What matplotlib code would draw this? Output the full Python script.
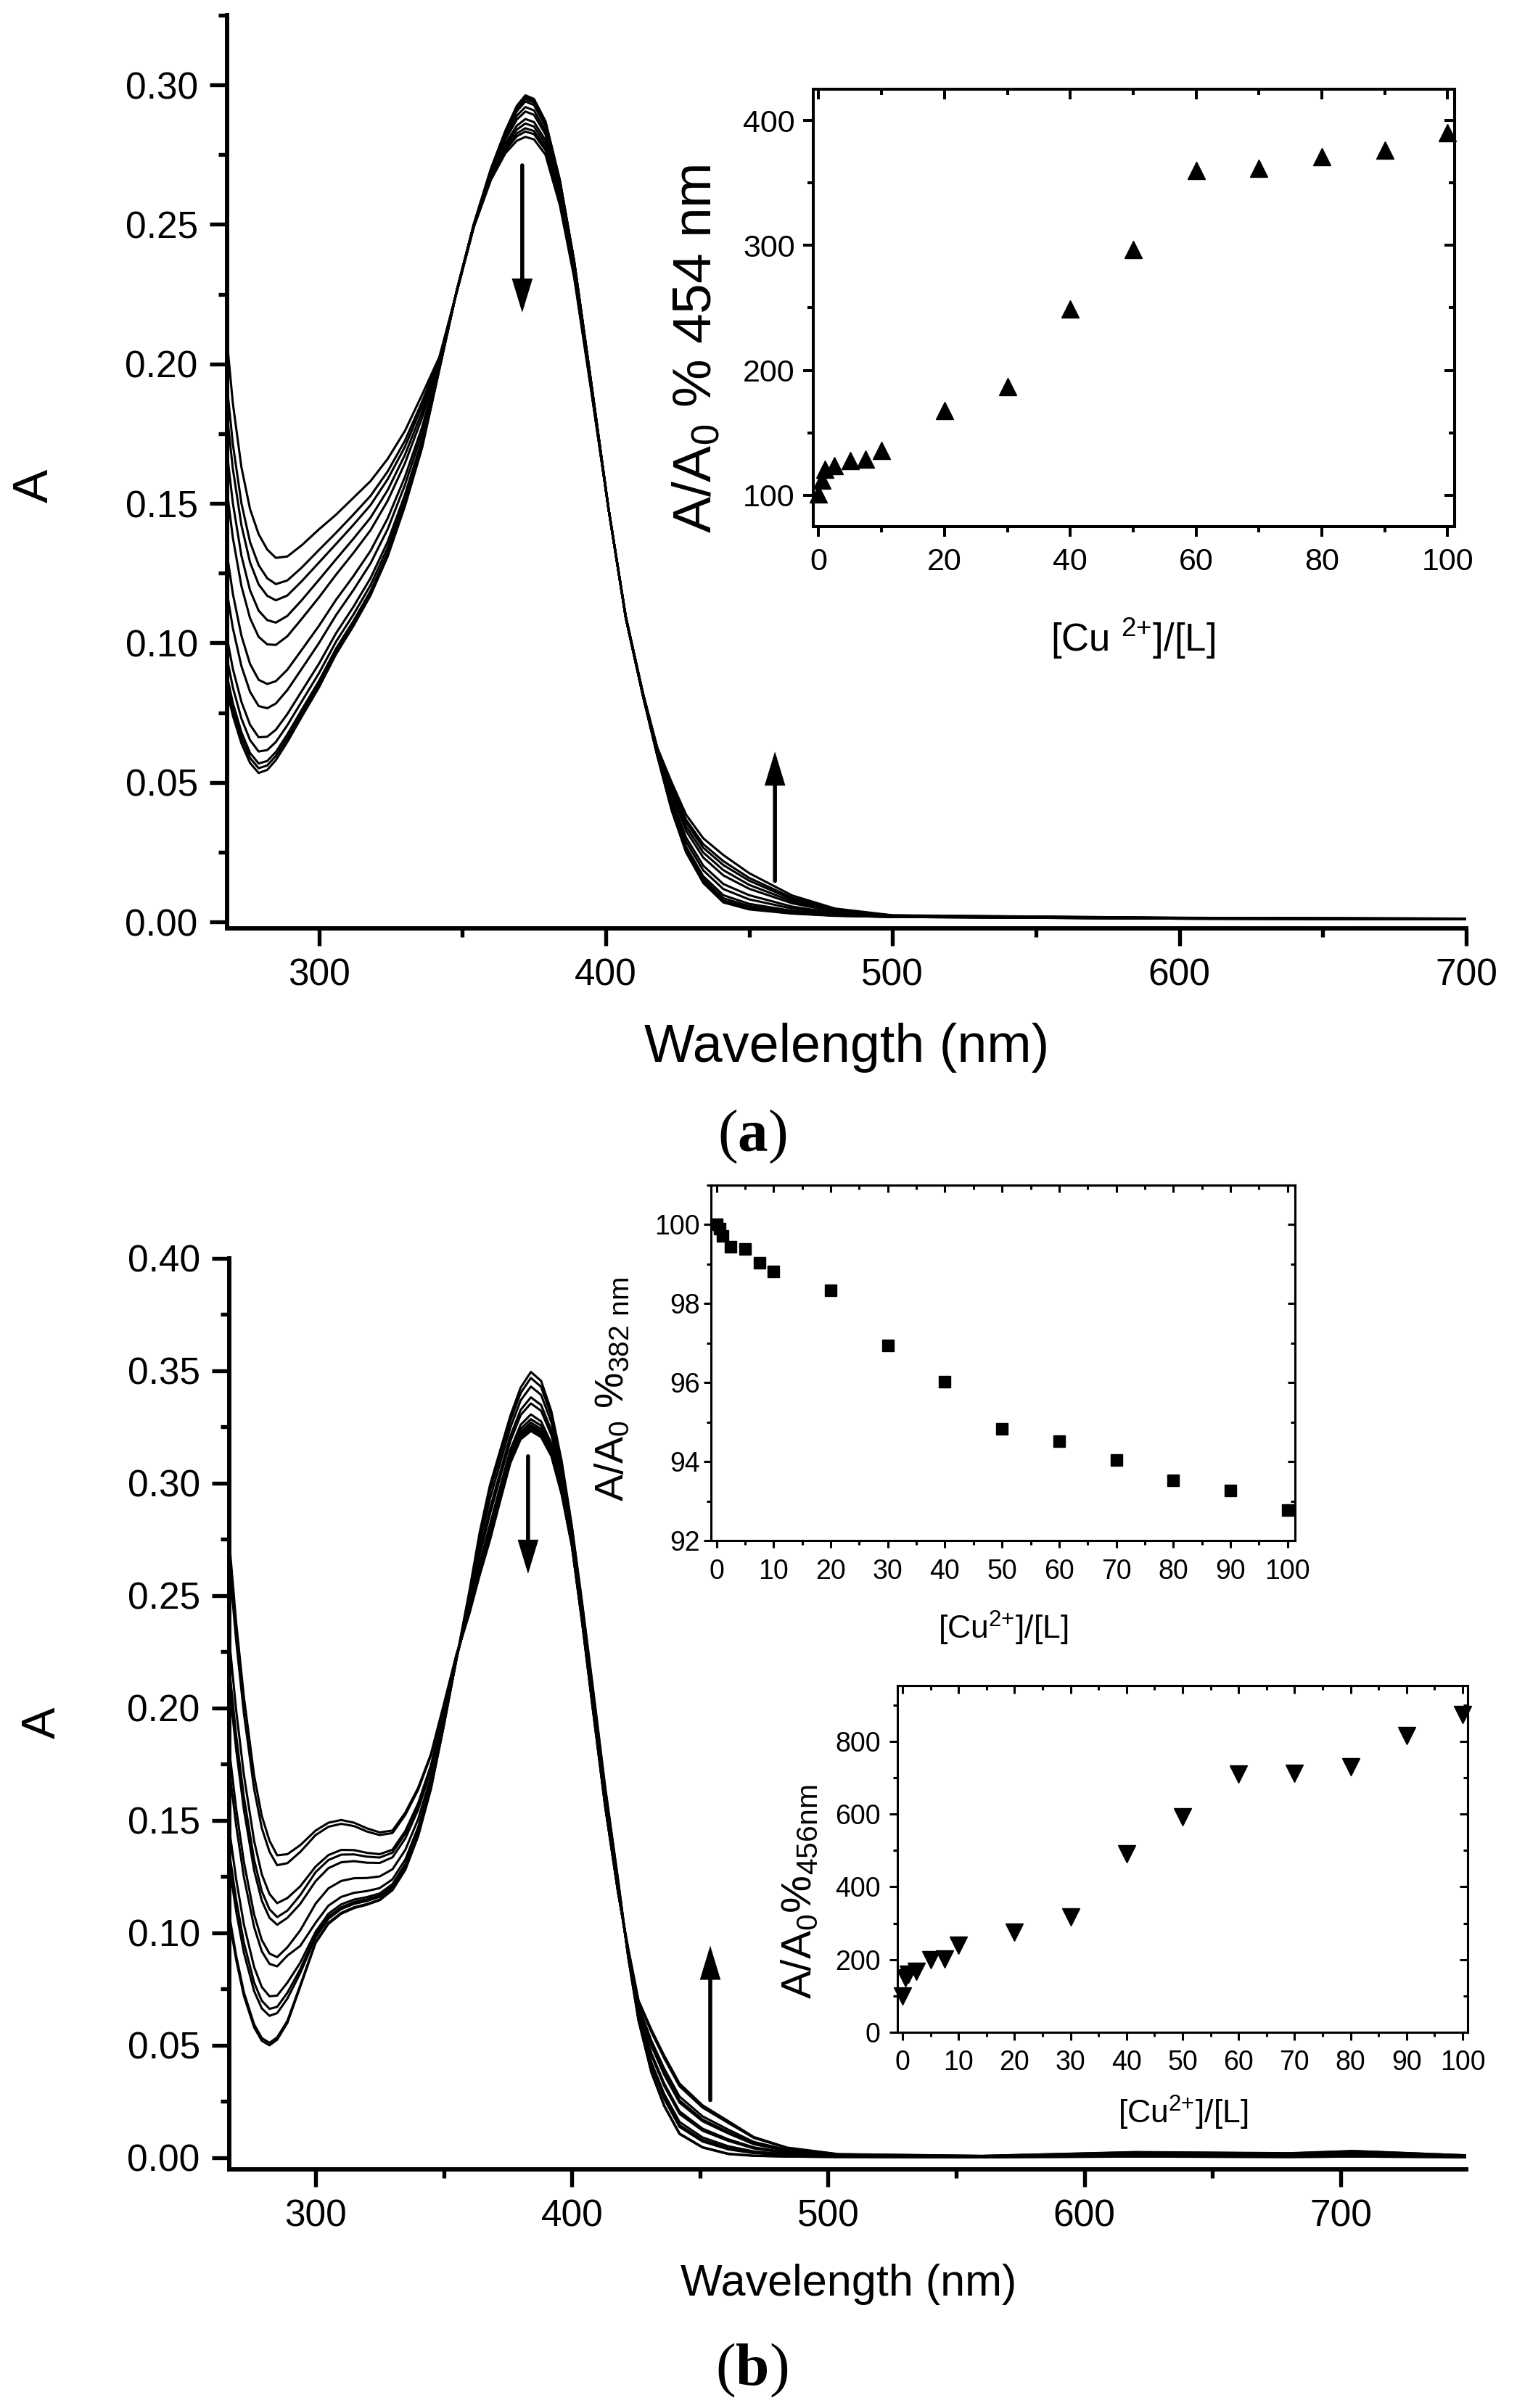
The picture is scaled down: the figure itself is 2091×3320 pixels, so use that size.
import matplotlib
matplotlib.use('Agg')
import matplotlib.pyplot as plt
from matplotlib.ticker import MultipleLocator, FormatStrFormatter, NullFormatter

plt.rcParams['font.family'] = ['Liberation Sans', 'DejaVu Sans']
plt.rcParams['mathtext.fontset'] = 'custom'
plt.rcParams['mathtext.default'] = 'regular'
plt.rcParams['mathtext.bf'] = 'Liberation Serif:bold'

W, H = 2091, 3320

# ---------------- panel (a): spectra ----------------
wl_a = [268, 270, 273, 276, 279, 282, 285, 289, 294, 300, 306, 312, 318, 324, 330, 336, 342, 348, 354, 360,
        365, 369, 372, 375, 379, 384, 389, 395, 401, 407, 413, 418, 423, 428, 434, 441, 450, 465, 480, 500,
        600, 700]
spectra_a = [
    [0.083, 0.074, 0.064, 0.057, 0.0534, 0.0545, 0.058, 0.0645, 0.0735, 0.084, 0.096, 0.106, 0.117, 0.131, 0.149, 0.170, 0.198, 0.226, 0.250, 0.270,
     0.2835, 0.2925, 0.2963, 0.2950, 0.2870, 0.2660, 0.2370, 0.1930, 0.1480, 0.1090, 0.0810, 0.0595, 0.0400, 0.0250, 0.0140, 0.0070, 0.0045, 0.0030, 0.0022, 0.0018,
     0.0012, 0.0010],
    [0.0855, 0.0762, 0.0660, 0.0588, 0.0551, 0.0561, 0.0595, 0.0658, 0.0747, 0.0851, 0.0970, 0.1069, 0.1178, 0.1317, 0.1495, 0.1704, 0.1981, 0.2260, 0.2500, 0.2699,
     0.2833, 0.2922, 0.2960, 0.2947, 0.2868, 0.2658, 0.2369, 0.1929, 0.1480, 0.1090, 0.0810, 0.0596, 0.0402, 0.0253, 0.0143, 0.0073, 0.0048, 0.0031, 0.0023, 0.0018,
     0.0012, 0.0010],
    [0.0880, 0.0785, 0.0680, 0.0606, 0.0568, 0.0577, 0.0609, 0.0672, 0.0760, 0.0863, 0.0980, 0.1078, 0.1186, 0.1324, 0.1501, 0.1708, 0.1982, 0.2260, 0.2500, 0.2698,
     0.2832, 0.2920, 0.2957, 0.2944, 0.2865, 0.2656, 0.2368, 0.1929, 0.1480, 0.1090, 0.0810, 0.0596, 0.0404, 0.0255, 0.0146, 0.0077, 0.0050, 0.0033, 0.0023, 0.0018,
     0.0012, 0.0010],
    [0.0943, 0.0841, 0.0729, 0.0652, 0.0611, 0.0616, 0.0645, 0.0705, 0.0790, 0.0891, 0.1005, 0.1101, 0.1207, 0.1342, 0.1514, 0.1717, 0.1984, 0.2260, 0.2499, 0.2696,
     0.2828, 0.2914, 0.2950, 0.2937, 0.2859, 0.2652, 0.2365, 0.1927, 0.1480, 0.1090, 0.0811, 0.0598, 0.0409, 0.0262, 0.0154, 0.0085, 0.0057, 0.0036, 0.0024, 0.0019,
     0.0012, 0.0010],
    [0.1018, 0.0908, 0.0789, 0.0707, 0.0662, 0.0664, 0.0689, 0.0745, 0.0827, 0.0925, 0.1035, 0.1129, 0.1232, 0.1363, 0.1531, 0.1729, 0.1987, 0.2260, 0.2498, 0.2694,
     0.2823, 0.2906, 0.2941, 0.2928, 0.2852, 0.2647, 0.2361, 0.1926, 0.1480, 0.1091, 0.0812, 0.0600, 0.0415, 0.0270, 0.0164, 0.0096, 0.0065, 0.0040, 0.0026, 0.0019,
     0.0012, 0.0010],
    [0.1180, 0.1054, 0.0917, 0.0825, 0.0774, 0.0766, 0.0783, 0.0831, 0.0907, 0.0999, 0.1100, 0.1189, 0.1285, 0.1408, 0.1566, 0.1753, 0.1993, 0.2259, 0.2497, 0.2689,
     0.2813, 0.2890, 0.2921, 0.2909, 0.2836, 0.2635, 0.2353, 0.1922, 0.1480, 0.1091, 0.0813, 0.0603, 0.0428, 0.0288, 0.0185, 0.0118, 0.0081, 0.0048, 0.0029, 0.0020,
     0.0013, 0.0011],
    [0.1318, 0.1177, 0.1026, 0.0925, 0.0868, 0.0853, 0.0863, 0.0904, 0.0975, 0.1061, 0.1155, 0.1239, 0.1330, 0.1447, 0.1595, 0.1774, 0.1998, 0.2258, 0.2496, 0.2684,
     0.2804, 0.2876, 0.2905, 0.2893, 0.2823, 0.2625, 0.2347, 0.1918, 0.1480, 0.1092, 0.0814, 0.0607, 0.0439, 0.0303, 0.0202, 0.0136, 0.0096, 0.0055, 0.0032, 0.0020,
     0.0013, 0.0011],
    [0.1543, 0.1378, 0.1204, 0.1089, 0.1022, 0.0995, 0.0993, 0.1024, 0.1086, 0.1163, 0.1245, 0.1322, 0.1404, 0.1510, 0.1644, 0.1808, 0.2006, 0.2257, 0.2494, 0.2677,
     0.2789, 0.2854, 0.2878, 0.2867, 0.2802, 0.2609, 0.2336, 0.1913, 0.1480, 0.1093, 0.0816, 0.0612, 0.0457, 0.0327, 0.0231, 0.0167, 0.0119, 0.0067, 0.0037, 0.0021,
     0.0014, 0.0011],
    [0.1680, 0.1502, 0.1313, 0.1189, 0.1116, 0.1082, 0.1073, 0.1097, 0.1153, 0.1226, 0.1300, 0.1373, 0.1449, 0.1548, 0.1674, 0.1829, 0.2011, 0.2257, 0.2493, 0.2673,
     0.2781, 0.2840, 0.2862, 0.2851, 0.2788, 0.2599, 0.2329, 0.1910, 0.1480, 0.1093, 0.0817, 0.0615, 0.0468, 0.0342, 0.0249, 0.0186, 0.0133, 0.0074, 0.0040, 0.0022,
     0.0014, 0.0011],
    [0.1818, 0.1625, 0.1422, 0.1289, 0.1210, 0.1169, 0.1153, 0.1170, 0.1221, 0.1288, 0.1355, 0.1423, 0.1494, 0.1587, 0.1703, 0.1850, 0.2016, 0.2256, 0.2492, 0.2668,
     0.2772, 0.2826, 0.2845, 0.2835, 0.2775, 0.2589, 0.2323, 0.1906, 0.1480, 0.1094, 0.0818, 0.0619, 0.0479, 0.0357, 0.0266, 0.0204, 0.0148, 0.0081, 0.0043, 0.0023,
     0.0014, 0.0012],
    [0.1918, 0.1714, 0.1501, 0.1362, 0.1279, 0.1232, 0.1211, 0.1224, 0.1270, 0.1333, 0.1395, 0.1460, 0.1527, 0.1615, 0.1725, 0.1865, 0.2019, 0.2256, 0.2491, 0.2665,
     0.2765, 0.2816, 0.2833, 0.2824, 0.2766, 0.2582, 0.2318, 0.1904, 0.1480, 0.1094, 0.0819, 0.0621, 0.0487, 0.0367, 0.0279, 0.0218, 0.0158, 0.0087, 0.0045, 0.0023,
     0.0015, 0.0012],
    [0.208, 0.186, 0.163, 0.148, 0.139, 0.1335, 0.1305, 0.131, 0.135, 0.1407, 0.146, 0.152, 0.158, 0.166, 0.176, 0.189, 0.2025, 0.2255, 0.249, 0.266,
     0.2755, 0.2800, 0.2814, 0.2805, 0.2750, 0.2570, 0.2310, 0.1900, 0.1480, 0.1095, 0.0820, 0.0625, 0.0500, 0.0385, 0.0300, 0.0240, 0.0175, 0.0095, 0.0048, 0.0024,
     0.0015, 0.0012],
]

# inset (a): A/A0 % at 454 nm
ratio_a = [0, 0.5, 1, 2.5, 5, 7.5, 10, 20, 30, 40, 50, 60, 70, 80, 90, 100]
pct_454 = [101, 112, 121, 124, 128, 129, 136, 168, 187, 249, 297, 360, 362, 371, 376, 390]

# ---------------- panel (b): spectra ----------------
wl_b = [266, 269, 272, 276, 279, 282, 285, 289, 294, 300, 305, 310, 315, 320, 325, 330, 335, 340, 345, 350,
        355, 360, 364, 368, 372, 376, 380, 384, 388, 392, 396, 400, 404, 408, 413, 418, 422, 426, 431, 436,
        442, 451, 461, 471, 484, 504, 560, 620, 680, 705, 750]
spectra_b = [
    [0.108, 0.088, 0.072, 0.058, 0.052, 0.0500, 0.0525, 0.0600, 0.0760, 0.0955, 0.1040, 0.1085, 0.1110, 0.1125, 0.1145, 0.1190, 0.1280, 0.1430, 0.1640, 0.1920,
     0.2220, 0.2520, 0.2780, 0.2990, 0.3145, 0.3300, 0.3425, 0.3495, 0.3455, 0.3320, 0.3100, 0.2810, 0.2470, 0.2110, 0.1650, 0.1240, 0.0890, 0.0610, 0.0380, 0.0230,
     0.0105, 0.0045, 0.0016, 0.0008, 0.0005, 0.0003, 0.0002, 0.0005, 0.0003, 0.0005, 0.0002],
    [0.1100, 0.0898, 0.0736, 0.0593, 0.0532, 0.0511, 0.0535, 0.0609, 0.0767, 0.0960, 0.1045, 0.1089, 0.1114, 0.1128, 0.1148, 0.1193, 0.1283, 0.1432, 0.1642, 0.1921,
     0.2220, 0.2510, 0.2760, 0.2965, 0.3122, 0.3278, 0.3401, 0.3468, 0.3429, 0.3299, 0.3085, 0.2801, 0.2461, 0.2100, 0.1641, 0.1234, 0.0890, 0.0611, 0.0382, 0.0233,
     0.0108, 0.0047, 0.0018, 0.0009, 0.0005, 0.0003, 0.0002, 0.0005, 0.0003, 0.0005, 0.0002],
    [0.1325, 0.1096, 0.0912, 0.0741, 0.0664, 0.0631, 0.0643, 0.0708, 0.0821, 0.0980, 0.1063, 0.1106, 0.1129, 0.1142, 0.1160, 0.1203, 0.1293, 0.1441, 0.1648, 0.1925,
     0.2221, 0.2495, 0.2733, 0.2929, 0.3089, 0.3248, 0.3368, 0.3430, 0.3393, 0.3271, 0.3063, 0.2788, 0.2448, 0.2085, 0.1628, 0.1225, 0.0896, 0.0623, 0.0407, 0.0262,
     0.0137, 0.0072, 0.0037, 0.0020, 0.0011, 0.0005, 0.0003, 0.0008, 0.0005, 0.0009, 0.0003],
    [0.1383, 0.1147, 0.0957, 0.0779, 0.0698, 0.0662, 0.0671, 0.0734, 0.0838, 0.0990, 0.1072, 0.1114, 0.1137, 0.1149, 0.1166, 0.1209, 0.1298, 0.1445, 0.1651, 0.1927,
     0.2221, 0.2477, 0.2698, 0.2885, 0.3048, 0.3210, 0.3326, 0.3382, 0.3348, 0.3234, 0.3036, 0.2771, 0.2431, 0.2067, 0.1611, 0.1214, 0.0897, 0.0626, 0.0414, 0.0270,
     0.0145, 0.0079, 0.0042, 0.0023, 0.0012, 0.0005, 0.0003, 0.0009, 0.0006, 0.0010, 0.0003],
    [0.1486, 0.1239, 0.1038, 0.0848, 0.0759, 0.0718, 0.0721, 0.0779, 0.0867, 0.1005, 0.1085, 0.1127, 0.1148, 0.1159, 0.1175, 0.1217, 0.1306, 0.1452, 0.1656, 0.1930,
     0.2222, 0.2467, 0.2679, 0.2860, 0.3025, 0.3188, 0.3303, 0.3355, 0.3322, 0.3214, 0.3020, 0.2762, 0.2422, 0.2057, 0.1602, 0.1208, 0.0900, 0.0632, 0.0425, 0.0284,
     0.0159, 0.0090, 0.0051, 0.0028, 0.0015, 0.0006, 0.0003, 0.0010, 0.0007, 0.0011, 0.0004],
    [0.1757, 0.1477, 0.1249, 0.1026, 0.0918, 0.0862, 0.0851, 0.0899, 0.0942, 0.1045, 0.1121, 0.1160, 0.1178, 0.1186, 0.1199, 0.1238, 0.1326, 0.1469, 0.1668, 0.1937,
     0.2224, 0.2448, 0.2643, 0.2814, 0.2983, 0.3149, 0.3260, 0.3306, 0.3275, 0.3176, 0.2992, 0.2745, 0.2405, 0.2038, 0.1585, 0.1197, 0.0906, 0.0646, 0.0456, 0.0320,
     0.0195, 0.0120, 0.0075, 0.0041, 0.0021, 0.0008, 0.0004, 0.0013, 0.0010, 0.0015, 0.0005],
    [0.1842, 0.1552, 0.1316, 0.1082, 0.0968, 0.0908, 0.0892, 0.0936, 0.1011, 0.1130, 0.1198, 0.1231, 0.1243, 0.1244, 0.1251, 0.1283, 0.1369, 0.1505, 0.1694, 0.1953,
     0.2227, 0.2440, 0.2628, 0.2795, 0.2965, 0.3132, 0.3242, 0.3285, 0.3256, 0.3160, 0.2980, 0.2738, 0.2398, 0.2030, 0.1578, 0.1192, 0.0908, 0.0650, 0.0465, 0.0331,
     0.0206, 0.0129, 0.0082, 0.0046, 0.0023, 0.0009, 0.0005, 0.0014, 0.0011, 0.0016, 0.0006],
    [0.2139, 0.1815, 0.1549, 0.1278, 0.1143, 0.1067, 0.1036, 0.1067, 0.1129, 0.1230, 0.1288, 0.1314, 0.1319, 0.1312, 0.1311, 0.1336, 0.1420, 0.1548, 0.1725, 0.1972,
     0.2231, 0.2434, 0.2617, 0.2780, 0.2952, 0.3120, 0.3228, 0.3270, 0.3241, 0.3149, 0.2972, 0.2733, 0.2393, 0.2024, 0.1573, 0.1189, 0.0915, 0.0666, 0.0498, 0.0370,
     0.0245, 0.0162, 0.0108, 0.0060, 0.0030, 0.0011, 0.0006, 0.0017, 0.0014, 0.0021, 0.0007],
    [0.2211, 0.1878, 0.1605, 0.1325, 0.1185, 0.1105, 0.1070, 0.1099, 0.1168, 0.1270, 0.1324, 0.1348, 0.1349, 0.1339, 0.1335, 0.1357, 0.1441, 0.1566, 0.1738, 0.1980,
     0.2233, 0.2430, 0.2609, 0.2769, 0.2942, 0.3111, 0.3218, 0.3258, 0.3230, 0.3140, 0.2965, 0.2729, 0.2389, 0.2020, 0.1569, 0.1186, 0.0917, 0.0670, 0.0506, 0.0380,
     0.0255, 0.0170, 0.0114, 0.0064, 0.0032, 0.0012, 0.0006, 0.0018, 0.0014, 0.0022, 0.0007],
    [0.2338, 0.1990, 0.1704, 0.1409, 0.1260, 0.1173, 0.1132, 0.1155, 0.1207, 0.1295, 0.1346, 0.1369, 0.1368, 0.1356, 0.1350, 0.1370, 0.1453, 0.1576, 0.1745, 0.1985,
     0.2234, 0.2427, 0.2603, 0.2762, 0.2935, 0.3104, 0.3211, 0.3250, 0.3222, 0.3134, 0.2960, 0.2726, 0.2386, 0.2017, 0.1566, 0.1184, 0.0920, 0.0677, 0.0521, 0.0397,
     0.0272, 0.0184, 0.0125, 0.0070, 0.0035, 0.0013, 0.0006, 0.0020, 0.0016, 0.0024, 0.0008],
    [0.2688, 0.2299, 0.1978, 0.1640, 0.1466, 0.1361, 0.1301, 0.1310, 0.1360, 0.1435, 0.1472, 0.1485, 0.1475, 0.1451, 0.1435, 0.1444, 0.1525, 0.1636, 0.1789, 0.2011,
     0.2239, 0.2423, 0.2596, 0.2752, 0.2927, 0.3096, 0.3202, 0.3240, 0.3213, 0.3126, 0.2955, 0.2723, 0.2383, 0.2013, 0.1563, 0.1182, 0.0928, 0.0695, 0.0560, 0.0443,
     0.0318, 0.0223, 0.0155, 0.0088, 0.0043, 0.0015, 0.0008, 0.0024, 0.0019, 0.0029, 0.0010],
    [0.278, 0.238, 0.205, 0.170, 0.152, 0.141, 0.1345, 0.1350, 0.1390, 0.1455, 0.1490, 0.1502, 0.1490, 0.1465, 0.1447, 0.1455, 0.1535, 0.1645, 0.1795, 0.2015,
     0.2240, 0.2420, 0.2590, 0.2745, 0.2920, 0.3090, 0.3195, 0.3232, 0.3205, 0.3120, 0.2950, 0.2720, 0.2380, 0.2010, 0.1560, 0.1180, 0.0930, 0.0700, 0.0570, 0.0455,
     0.0330, 0.0233, 0.0163, 0.0092, 0.0045, 0.0016, 0.0008, 0.0025, 0.0020, 0.0030, 0.0010],
]

# insets (b)
ratio_b = [0, 0.5, 1, 2.5, 5, 7.5, 10, 20, 30, 40, 50, 60, 70, 80, 90, 100]
pct_382 = [100.0, 99.90, 99.72, 99.44, 99.38, 99.03, 98.82, 98.33, 96.95, 96.03, 94.82, 94.52, 94.03, 93.52, 93.26, 92.78]
pct_456 = [100, 150, 160, 168, 200, 201, 239, 275, 317, 491, 592, 709, 712, 730, 816, 873]

# arrows (wavelength, tail A, head A)
arrows_a = [(370.9, 0.2712, 0.2184), (459.0, 0.0147, 0.0611)]
arrows_b = [(382.9, 0.3120, 0.2597), (454.0, 0.0256, 0.0943)]


def frac(x0, y0, x1, y1):
    # pixel box -> figure fraction [left, bottom, width, height]
    return [x0 / W, 1 - y1 / H, (x1 - x0) / W, (y1 - y0) / H]


def ftext(x, y, s, **kw):
    fig.text(x / W, 1 - y / H, s, ha='center', va='center', **kw)


def style_main(ax, lw=4.3):
    for s in ('top', 'right'):
        ax.spines[s].set_visible(False)
    for s in ('left', 'bottom'):
        ax.spines[s].set_linewidth(lw)
    ax.tick_params(which='both', direction='out', width=lw * 0.9, labelsize=37, pad=12)
    ax.tick_params(which='major', length=17)
    ax.tick_params(which='minor', length=8.5)
    ax.yaxis.set_major_formatter(FormatStrFormatter('%.2f'))


def style_inset(ax, xmaj, xmin, ymaj, ymin, lw, size, lmaj, lmin, ypad, xpad):
    for s in ax.spines.values():
        s.set_linewidth(lw)
    ax.set_facecolor('none')
    ax.xaxis.set_major_locator(MultipleLocator(xmaj))
    ax.xaxis.set_minor_locator(MultipleLocator(xmin))
    ax.yaxis.set_major_locator(MultipleLocator(ymaj))
    ax.yaxis.set_minor_locator(MultipleLocator(ymin))
    ax.tick_params(which='both', direction='out', width=lw, labelsize=size)
    ax.tick_params(which='major', length=lmaj)
    ax.tick_params(which='minor', length=lmin)
    ax.tick_params(axis='y', pad=ypad)
    ax.tick_params(axis='x', pad=xpad)
    # mirrored ticks on top/right pointing inwards
    sx = ax.secondary_xaxis('top')
    sx.xaxis.set_major_locator(MultipleLocator(xmaj))
    sx.xaxis.set_minor_locator(MultipleLocator(xmin))
    sx.xaxis.set_major_formatter(NullFormatter())
    sy = ax.secondary_yaxis('right')
    sy.yaxis.set_major_locator(MultipleLocator(ymaj))
    sy.yaxis.set_minor_locator(MultipleLocator(ymin))
    sy.yaxis.set_major_formatter(NullFormatter())
    for sec in (sx, sy):
        for s in sec.spines.values():
            s.set_linewidth(lw)
        sec.tick_params(which='both', direction='in', width=lw)
        sec.tick_params(which='major', length=lmaj)
        sec.tick_params(which='minor', length=lmin)


def draw_arrows(ax, arrows):
    for x, y0, y1 in arrows:
        ax.annotate('', xy=(x, y1), xytext=(x, y0),
                    arrowprops=dict(arrowstyle='-|>,head_length=1.25,head_width=0.38',
                                    mutation_scale=20, lw=4, color='k',
                                    shrinkA=0, shrinkB=0, joinstyle='miter'))


fig = plt.figure(figsize=(W / 100, H / 100), dpi=100)

# ---- panel (a) main ----
ax_a = fig.add_axes(frac(313, 21, 2021, 1280))
for row in spectra_a:
    ax_a.plot(wl_a, row, color='k', lw=2.2, solid_joinstyle='round')
ax_a.set_xlim(268, 700)
ax_a.set_ylim(-0.0023, 0.325)
ax_a.xaxis.set_major_locator(MultipleLocator(100))
ax_a.xaxis.set_minor_locator(MultipleLocator(50))
ax_a.yaxis.set_major_locator(MultipleLocator(0.05))
ax_a.yaxis.set_minor_locator(MultipleLocator(0.025))
style_main(ax_a)
draw_arrows(ax_a, arrows_a)

# ---- inset (a) ----
ins_a = fig.add_axes(frac(1120.6, 123, 2005, 726))
ins_a.plot(ratio_a, pct_454, '^', color='k', ms=17, clip_on=False)
ins_a.set_xlim(-0.9, 101.1)
ins_a.set_ylim(75, 425)
style_inset(ins_a, 20, 10, 100, 50, lw=2.9, size=31, lmaj=10, lmin=6, ypad=8, xpad=11)

# ---- panel (b) main ----
ax_b = fig.add_axes(frac(316, 1735, 2021, 2991))
for row in spectra_b:
    ax_b.plot(wl_b, row, color='k', lw=2.2, solid_joinstyle='round')
ax_b.set_xlim(266.3, 749)
ax_b.set_ylim(-0.0052, 0.40)
ax_b.xaxis.set_major_locator(MultipleLocator(100))
ax_b.xaxis.set_minor_locator(MultipleLocator(50))
ax_b.yaxis.set_major_locator(MultipleLocator(0.05))
ax_b.yaxis.set_minor_locator(MultipleLocator(0.025))
style_main(ax_b)
draw_arrows(ax_b, arrows_b)

# ---- inset (b) 382 nm ----
ins_b1 = fig.add_axes(frac(980, 1634, 1784.6, 2124))
ins_b1.plot(ratio_b, pct_382, 's', color='k', ms=11, clip_on=False)
ins_b1.set_xlim(-0.97, 101.26)
ins_b1.set_ylim(92, 101)
style_inset(ins_b1, 10, 5, 2, 1, lw=2.2, size=27, lmaj=7, lmin=4.5, ypad=4, xpad=11)

# ---- inset (b) 456 nm ----
ins_b2 = fig.add_axes(frac(1237.2, 2324, 2022.6, 2802))
ins_b2.plot(ratio_b, pct_456, 'v', color='k', ms=17, clip_on=False)
ins_b2.set_xlim(-0.87, 100.85)
ins_b2.set_ylim(0, 953)
style_inset(ins_b2, 10, 5, 200, 100, lw=2.2, size=27, lmaj=8, lmin=4.5, ypad=9, xpad=9)

# ---- labels ----
ftext(48, 670, 'A', size=50, rotation=90)
ftext(1167, 1444, 'Wavelength (nm)', size=53)
ftext(1037, 1567, r'($\mathbf{a}$)', size=60, family='Liberation Serif')
ftext(960, 481, r'A/A$_0$ % 454 nm', size=54, rotation=90)
ftext(1561, 880, r'[Cu $^{2{+}}$]/[L]', size=38)

ftext(59, 2375, 'A', size=47, rotation=90)
ftext(1170, 3149, 'Wavelength (nm)', size=44)
ftext(1036, 3268, r'($\mathbf{b}$)', size=60, family='Liberation Serif')
ftext(845, 1915, r'A/A$_0$ %$_{382\ nm}$', size=40, rotation=90)
ftext(1383, 2245, r'[Cu$^{2{+}}$]/[L]', size=32)
ftext(1103, 2608, r'A/A$_0$%$_{456nm}$', size=42, rotation=90)
ftext(1631, 2913, r'[Cu$^{2{+}}$]/[L]', size=32)

fig.savefig('out.png', dpi=100, facecolor='white')
